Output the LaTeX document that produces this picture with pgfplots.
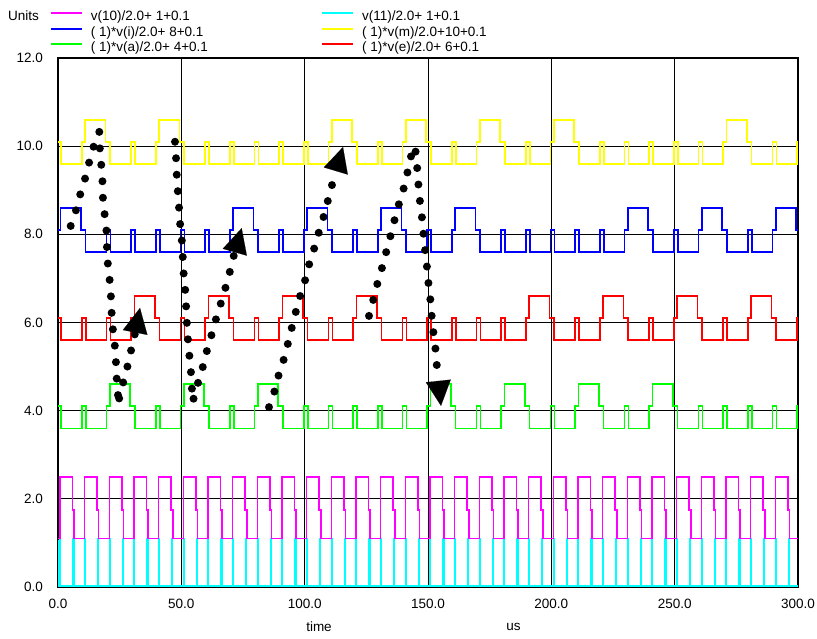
\documentclass[border=0pt]{standalone}
\usepackage{fontspec}
\setmainfont{Liberation Sans}
\usepackage{pgfplots}
\pgfplotsset{compat=1.18}
\usetikzlibrary{arrows.meta}
\definecolor{sigmag}{rgb}{1,0,1}
\definecolor{sigcya}{rgb}{0,1,1}
\definecolor{sigblu}{rgb}{0,0,1}
\definecolor{sigyel}{rgb}{1,1,0}
\definecolor{siggre}{rgb}{0,1,0}
\definecolor{sigred}{rgb}{1,0,0}
\begin{document}
\fontsize{13.5pt}{16pt}\selectfont
\begin{tikzpicture}
\path[use as bounding box] (-58pt,-51pt) rectangle (759pt,587pt);
\begin{axis}[
  at={(0pt,0pt)}, anchor=south west,
  scale only axis, width=740pt, height=529pt,
  xmin=0, xmax=300, ymin=0, ymax=12,
  xtick={0,50,...,300}, ytick={0,2,...,12},
  grid=major, major grid style={black, line width=1pt},
  axis line style={black, line width=1.4pt},
  major tick length=0pt,
  no markers,
  /pgf/number format/fixed, /pgf/number format/fixed zerofill,
  /pgf/number format/precision=1, /pgf/number format/assume math mode=true,
  tick label style={font=\fontsize{13.5pt}{16pt}\selectfont},
  yticklabel style={anchor=east, inner sep=0pt, xshift=-15pt},
  xticklabel style={anchor=north, inner sep=0pt, yshift=-12pt},
]
% cyan v(11)
\addplot[color=sigcya, line width=1.6pt, const plot] coordinates {(0,1.05)(0.3,0.02)(0.8,1.1)(1,0.02)(6.2,1.1)(6.4,0.02)(10.8,1.1)(11,0.02)(16.2,1.1)(16.4,0.02)(20.8,1.1)(21,0.02)(26.2,1.1)(26.4,0.02)(30.8,1.1)(31,0.02)(36.2,1.1)(36.4,0.02)(40.8,1.1)(41,0.02)(46.2,1.1)(46.4,0.02)(50.8,1.1)(51,0.02)(56.2,1.1)(56.4,0.02)(60.8,1.1)(61,0.02)(66.2,1.1)(66.4,0.02)(70.8,1.1)(71,0.02)(76.2,1.1)(76.4,0.02)(80.8,1.1)(81,0.02)(86.2,1.1)(86.4,0.02)(90.8,1.1)(91,0.02)(96.2,1.1)(96.4,0.02)(100.8,1.1)(101,0.02)(106.2,1.1)(106.4,0.02)(110.8,1.1)(111,0.02)(116.2,1.1)(116.4,0.02)(120.8,1.1)(121,0.02)(126.2,1.1)(126.4,0.02)(130.8,1.1)(131,0.02)(136.2,1.1)(136.4,0.02)(140.8,1.1)(141,0.02)(146.2,1.1)(146.4,0.02)(150.8,1.1)(151,0.02)(156.2,1.1)(156.4,0.02)(160.8,1.1)(161,0.02)(166.2,1.1)(166.4,0.02)(170.8,1.1)(171,0.02)(176.2,1.1)(176.4,0.02)(180.8,1.1)(181,0.02)(186.2,1.1)(186.4,0.02)(190.8,1.1)(191,0.02)(196.2,1.1)(196.4,0.02)(200.8,1.1)(201,0.02)(206.2,1.1)(206.4,0.02)(210.8,1.1)(211,0.02)(216.2,1.1)(216.4,0.02)(220.8,1.1)(221,0.02)(226.2,1.1)(226.4,0.02)(230.8,1.1)(231,0.02)(236.2,1.1)(236.4,0.02)(240.8,1.1)(241,0.02)(246.2,1.1)(246.4,0.02)(250.8,1.1)(251,0.02)(256.2,1.1)(256.4,0.02)(260.8,1.1)(261,0.02)(266.2,1.1)(266.4,0.02)(270.8,1.1)(271,0.02)(276.2,1.1)(276.4,0.02)(280.8,1.1)(281,0.02)(286.2,1.1)(286.4,0.02)(290.8,1.1)(291,0.02)(296.2,1.1)(296.4,0.02)(300,0.02)};
% magenta v(10)
\addplot[color=sigmag, line width=1.6pt, const plot] coordinates {(0,1.1)(0.8,2.5)(5.9,1.75)(6.5,1.1)(10.8,2.5)(15.9,1.75)(16.5,1.1)(20.8,2.5)(25.9,1.75)(26.5,1.1)(30.8,2.5)(35.9,1.75)(36.5,1.1)(40.8,2.5)(45.9,1.75)(46.5,1.1)(50.8,2.5)(55.9,1.75)(56.5,1.1)(60.8,2.5)(65.9,1.75)(66.5,1.1)(70.8,2.5)(75.9,1.75)(76.5,1.1)(80.8,2.5)(85.9,1.75)(86.5,1.1)(90.8,2.5)(95.9,1.75)(96.5,1.1)(100.8,2.5)(105.9,1.75)(106.5,1.1)(110.8,2.5)(115.9,1.75)(116.5,1.1)(120.8,2.5)(125.9,1.75)(126.5,1.1)(130.8,2.5)(135.9,1.75)(136.5,1.1)(140.8,2.5)(145.9,1.75)(146.5,1.1)(150.8,2.5)(155.9,1.75)(156.5,1.1)(160.8,2.5)(165.9,1.75)(166.5,1.1)(170.8,2.5)(175.9,1.75)(176.5,1.1)(180.8,2.5)(185.9,1.75)(186.5,1.1)(190.8,2.5)(195.9,1.75)(196.5,1.1)(200.8,2.5)(205.9,1.75)(206.5,1.1)(210.8,2.5)(215.9,1.75)(216.5,1.1)(220.8,2.5)(225.9,1.75)(226.5,1.1)(230.8,2.5)(235.9,1.75)(236.5,1.1)(240.8,2.5)(245.9,1.75)(246.5,1.1)(250.8,2.5)(255.9,1.75)(256.5,1.1)(260.8,2.5)(265.9,1.75)(266.5,1.1)(270.8,2.5)(275.9,1.75)(276.5,1.1)(280.8,2.5)(285.9,1.75)(286.5,1.1)(290.8,2.5)(295.9,1.75)(296.5,1.1)(300,1.1)};
% green v(a)
\addplot[color=siggre, line width=1.6pt, const plot] coordinates {(0,4.1)(1.3,3.6)(9.7,4.1)(11.3,3.6)(19.7,4.1)(21,4.6)(29.3,4.1)(31.2,3.6)(39.7,4.1)(41.3,3.6)(49.7,4.1)(51,4.6)(59.3,4.1)(61.2,3.6)(69.7,4.1)(71.3,3.6)(79.7,4.1)(81,4.6)(89.3,4.1)(91.2,3.6)(99.7,4.1)(101.3,3.6)(109.7,4.1)(111.3,3.6)(119.7,4.1)(121.3,3.6)(129.7,4.1)(131.3,3.6)(139.7,4.1)(141.3,3.6)(149.7,4.1)(151,4.6)(159.3,4.1)(161.2,3.6)(169.7,4.1)(171.3,3.6)(179.7,4.1)(181,4.6)(189.3,4.1)(191.2,3.6)(199.7,4.1)(201.3,3.6)(209.7,4.1)(211,4.6)(219.3,4.1)(221.2,3.6)(229.7,4.1)(231.3,3.6)(239.7,4.1)(241,4.6)(249.3,4.1)(251.2,3.6)(259.7,4.1)(261.3,3.6)(269.7,4.1)(271.3,3.6)(279.7,4.1)(281.3,3.6)(289.7,4.1)(291.3,3.6)(299.7,4.1)(300,4.1)};
% red v(e)
\addplot[color=sigred, line width=1.6pt, const plot] coordinates {(0,6.1)(1.3,5.6)(9.7,6.1)(11.3,5.6)(19.7,6.1)(21.3,5.6)(29.7,6.1)(31,6.6)(39.3,6.1)(41.2,5.6)(49.7,6.1)(51.3,5.6)(59.7,6.1)(61,6.6)(69.3,6.1)(71.2,5.6)(79.7,6.1)(81.3,5.6)(89.7,6.1)(91,6.6)(99.3,6.1)(101.2,5.6)(109.7,6.1)(111.3,5.6)(119.7,6.1)(121,6.6)(129.3,6.1)(131.2,5.6)(139.7,6.1)(141.3,5.6)(149.7,6.1)(151.3,5.6)(159.7,6.1)(161.3,5.6)(169.7,6.1)(171.3,5.6)(179.7,6.1)(181.3,5.6)(189.7,6.1)(191,6.6)(199.3,6.1)(201.2,5.6)(209.7,6.1)(211.3,5.6)(219.7,6.1)(221,6.6)(229.3,6.1)(231.2,5.6)(239.7,6.1)(241.3,5.6)(249.7,6.1)(251,6.6)(259.3,6.1)(261.2,5.6)(269.7,6.1)(271.3,5.6)(279.7,6.1)(281,6.6)(289.3,6.1)(291.2,5.6)(299.7,6.1)(300,6.1)};
% blue v(i)
\addplot[color=sigblu, line width=1.6pt, const plot] coordinates {(0,8.1)(1,8.6)(9.3,8.1)(11.2,7.6)(19.7,8.1)(21.3,7.6)(29.7,8.1)(31.3,7.6)(39.7,8.1)(41.3,7.6)(49.7,8.1)(51.3,7.6)(59.7,8.1)(61.3,7.6)(69.7,8.1)(71,8.6)(79.3,8.1)(81.2,7.6)(89.7,8.1)(91.3,7.6)(99.7,8.1)(101,8.6)(109.3,8.1)(111.2,7.6)(119.7,8.1)(121.3,7.6)(129.7,8.1)(131,8.6)(139.3,8.1)(141.2,7.6)(149.7,8.1)(151.3,7.6)(159.7,8.1)(161,8.6)(169.3,8.1)(171.2,7.6)(179.7,8.1)(181.3,7.6)(189.7,8.1)(191.3,7.6)(199.7,8.1)(201.3,7.6)(209.7,8.1)(211.3,7.6)(219.7,8.1)(221.3,7.6)(229.7,8.1)(231,8.6)(239.3,8.1)(241.2,7.6)(249.7,8.1)(251.3,7.6)(259.7,8.1)(261,8.6)(269.3,8.1)(271.2,7.6)(279.7,8.1)(281.3,7.6)(289.7,8.1)(291,8.6)(299.3,8.1)(300,8.1)};
% yellow v(m)
\addplot[color=sigyel, line width=1.6pt, const plot] coordinates {(0,10.1)(1.3,9.6)(9.7,10.1)(11,10.6)(19.3,10.1)(21.2,9.6)(29.7,10.1)(31.3,9.6)(39.7,10.1)(41,10.6)(49.3,10.1)(51.2,9.6)(59.7,10.1)(61.3,9.6)(69.7,10.1)(71.3,9.6)(79.7,10.1)(81.3,9.6)(89.7,10.1)(91.3,9.6)(99.7,10.1)(101.3,9.6)(109.7,10.1)(111,10.6)(119.3,10.1)(121.2,9.6)(129.7,10.1)(131.3,9.6)(139.7,10.1)(141,10.6)(149.3,10.1)(151.2,9.6)(159.7,10.1)(161.3,9.6)(169.7,10.1)(171,10.6)(179.3,10.1)(181.2,9.6)(189.7,10.1)(191.3,9.6)(199.7,10.1)(201,10.6)(209.3,10.1)(211.2,9.6)(219.7,10.1)(221.3,9.6)(229.7,10.1)(231.3,9.6)(239.7,10.1)(241.3,9.6)(249.7,10.1)(251.3,9.6)(259.7,10.1)(261.3,9.6)(269.7,10.1)(271,10.6)(279.3,10.1)(281.2,9.6)(289.7,10.1)(291.3,9.6)(299.7,10.1)(300,10.1)};
% dotted arrows
\pgfplotsset{dotarrow/.style={color=black, line width=8pt, line cap=round, dash pattern=on 0pt off 16.5pt, -{Triangle[length=25pt,width=25pt,line width=0.1pt]}}}
\addplot[dotarrow] coordinates {(5.15,8.19)(7.30,8.55)(8.92,8.89)(10.95,9.26)(12.57,9.62)(14.19,9.96)(16.22,10.21)(16.74,10.33)(17.03,9.85)(17.72,9.48)(18.12,9.12)(18.24,8.76)(19.05,8.39)(19.74,8.03)(19.86,7.64)(20.27,7.28)(21.08,6.90)(21.49,6.56)(21.77,6.19)(22.30,5.81)(23.11,5.44)(23.51,5.08)(23.80,4.72)(24.32,4.36)(24.32,4.13)(25.42,4.47)(27.57,4.83)(28.78,5.19)(30.41,5.53)(33.24,6.33)};
\addplot[dotarrow] coordinates {(47.43,10.10)(47.84,9.75)(48.12,9.37)(48.53,9.01)(49.05,8.62)(49.46,8.26)(50.15,7.91)(50.55,7.53)(50.80,7.19)(51.49,6.81)(51.89,6.42)(52.18,6.06)(52.58,5.69)(53.11,5.33)(53.80,4.97)(54.20,4.58)(54.61,4.20)(56.23,4.54)(58.26,4.88)(59.59,5.22)(61.62,5.58)(63.24,5.94)(65.27,6.28)(66.89,6.62)(68.92,6.96)(70.42,7.35)(74.47,8.14)};
\addplot[dotarrow] coordinates {(85.54,4.08)(87.57,4.40)(89.19,4.76)(91.22,5.10)(92.84,5.44)(94.46,5.81)(96.08,6.17)(97.70,6.53)(99.73,6.85)(101.35,7.24)(103.38,7.58)(105.0,7.92)(107.03,8.26)(108.65,8.61)(110.27,8.94)(111.89,9.30)(115.54,9.98)};
\addplot[dotarrow] coordinates {(126.08,6.15)(127.70,6.49)(129.32,6.85)(131.35,7.24)(132.97,7.58)(134.59,7.92)(136.22,8.28)(137.84,8.62)(139.86,8.98)(141.49,9.35)(142.70,9.71)(144.73,10.00)(145.42,9.64)(145.95,9.28)(146.35,8.92)(147.16,8.57)(147.97,8.18)(148.38,7.83)(149.19,7.49)(150.41,6.76)(151.22,6.40)(151.62,6.03)(152.43,5.67)(153.24,5.31)(153.65,4.95)(155.27,4.11)};
\end{axis}
% legend and labels
\node[anchor=base west, inner sep=0pt] at (-50pt,566.3pt) {Units};
\draw[color=sigmag, line width=2pt] (-7pt,573.7pt) -- (24pt,573.7pt);
\node[anchor=base west, inner sep=0pt] at (32.7pt,566.3pt) {v(10)/2.0+ 1+0.1};
\draw[color=sigblu, line width=2pt] (-7pt,558pt) -- (24pt,558pt);
\node[anchor=base west, inner sep=0pt] at (32.7pt,550.8pt) {( 1)*v(i)/2.0+ 8+0.1};
\draw[color=siggre, line width=2pt] (-7pt,542.7pt) -- (24pt,542.7pt);
\node[anchor=base west, inner sep=0pt] at (32.7pt,535.3pt) {( 1)*v(a)/2.0+ 4+0.1};
\draw[color=sigcya, line width=2pt] (264pt,573.7pt) -- (295pt,573.7pt);
\node[anchor=base west, inner sep=0pt] at (304pt,566.3pt) {v(11)/2.0+ 1+0.1};
\draw[color=sigyel, line width=2pt] (264pt,558pt) -- (295pt,558pt);
\node[anchor=base west, inner sep=0pt] at (304pt,550.8pt) {( 1)*v(m)/2.0+10+0.1};
\draw[color=sigred, line width=2pt] (264pt,542.7pt) -- (295pt,542.7pt);
\node[anchor=base west, inner sep=0pt] at (304pt,535.3pt) {( 1)*v(e)/2.0+ 6+0.1};
\node[inner sep=0pt] at (261pt,-40pt) {time};
\node[inner sep=0pt] at (455.5pt,-40pt) {us};
\end{tikzpicture}
\end{document}
